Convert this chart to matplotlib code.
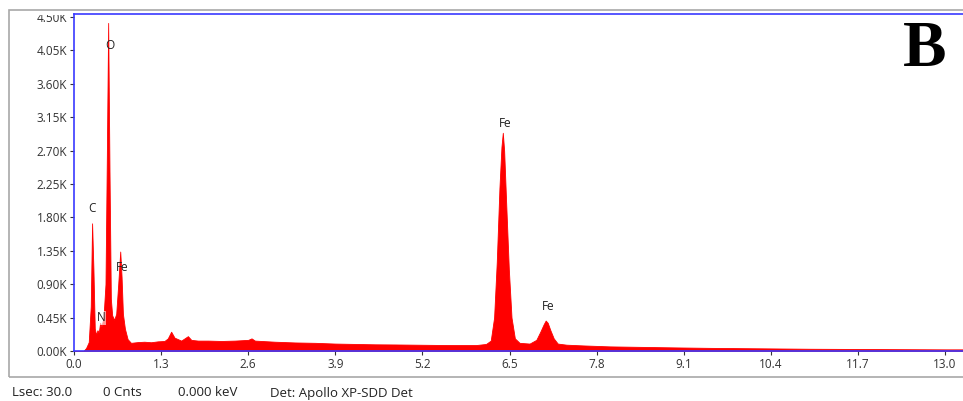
import matplotlib
matplotlib.use("Agg")
import matplotlib.pyplot as plt
from matplotlib.patches import Rectangle

# spectrum (keV, counts)
energy_kev = [
    0.00, 0.14, 0.18, 0.22, 0.25, 0.27, 0.29, 0.31, 0.33, 0.35, 0.37, 0.39,
    0.41, 0.44, 0.47, 0.49, 0.51, 0.53, 0.55, 0.57, 0.60, 0.63, 0.66, 0.69,
    0.71, 0.73, 0.76, 0.80, 0.85, 0.95, 1.05, 1.15, 1.25, 1.35, 1.40, 1.45,
    1.50, 1.60, 1.70, 1.75, 1.85, 2.00, 2.20, 2.40, 2.60, 2.65, 2.70, 3.00,
    3.30, 3.60, 3.90, 4.20, 4.50, 4.80, 5.10, 5.40, 5.70, 6.00, 6.15, 6.22,
    6.27, 6.31, 6.35, 6.38, 6.40, 6.42, 6.45, 6.49, 6.53, 6.58, 6.65, 6.80,
    6.90, 6.96, 7.01, 7.04, 7.07, 7.11, 7.16, 7.22, 7.35, 7.60, 8.00, 8.50,
    9.00, 9.50, 10.00, 10.50, 11.00, 11.50, 12.00, 12.50, 13.00, 13.30,
]
counts = [
    0, 0, 40, 120, 600, 1720, 1100, 300, 220, 280, 250, 380,
    330, 450, 900, 2600, 4420, 2400, 700, 480, 420, 500, 900, 1340,
    1000, 500, 300, 160, 110, 120, 125, 118, 130, 135, 170, 260,
    180, 140, 200, 150, 140, 140, 135, 140, 150, 170, 140, 125,
    115, 110, 100, 95, 90, 88, 85, 82, 80, 80, 95, 140,
    450, 1200, 2200, 2750, 2940, 2700, 2000, 1100, 450, 170, 110, 100,
    150, 260, 360, 410, 380, 280, 170, 100, 85, 75, 62, 55,
    48, 42, 38, 34, 30, 28, 26, 24, 22, 22,
]

peak_labels = ["C", "O", "Fe", "N", "Fe", "Fe"]
label_kev = [0.27, 0.54, 0.72, 0.40, 6.43, 7.07]
label_counts = [1920, 4120, 1120, 445, 3065, 594]

y_ticks = [0, 450, 900, 1350, 1800, 2250, 2700, 3150, 3600, 4050, 4500]
x_ticks = [0.0, 1.3, 2.6, 3.9, 5.2, 6.5, 7.8, 9.1, 10.4, 11.7, 13.0]

W, H = 963, 401
plt.rcParams["font.family"] = ["Open Sans", "DejaVu Sans"]
fig = plt.figure(figsize=(W / 100, H / 100), dpi=100)

ax = fig.add_axes([74 / W, 1 - 351 / H, (966 - 74) / W, (351 - 14) / H])
ax.fill_between(energy_kev, counts, 0, color="#ff0000", lw=0.6, ec="#ff0000")
ax.set_xlim(0, (966 - 74) / 67.0)
ax.set_ylim(0, 4540)

for sp in ax.spines.values():
    sp.set_color("#3a3aff")
    sp.set_linewidth(1.2)

ax.set_yticks(y_ticks)
ax.set_yticklabels([f"{v / 1000:.2f}K" for v in y_ticks])
ax.set_xticks(x_ticks)
ax.set_xticklabels([f"{v:.1f}" for v in x_ticks])
ax.tick_params(axis="both", labelsize=8.5, colors="#333333", length=3,
               width=0.8, pad=2)

for lab, xk, yc in zip(peak_labels, label_kev, label_counts):
    bb = dict(fc="white", ec="none", alpha=0.6, pad=0.5) if lab == "N" else None
    ax.text(xk, yc, lab, ha="center", va="center", fontsize=8.5,
            color="#222222", bbox=bb)

# top tick label is cut off above the plot frame
fig.patches.append(Rectangle((20 / W, 1 - 15 / H), 52.5 / W, 15 / H,
                             transform=fig.transFigure, fc="white",
                             ec="none", zorder=2))
# outer grey frame
fig.patches.append(Rectangle((9 / W, 1 - 377 / H), 1.0, (377 - 10) / H,
                             transform=fig.transFigure, fill=False,
                             ec="#a8a8a8", lw=1.2, zorder=3))

fig.text(925 / W, 1 - 50 / H, "B", ha="center", va="center", fontsize=47,
         fontweight="bold", family="Liberation Serif")

footer = [(12, "Lsec: 30.0"), (103, "0 Cnts"), (178, "0.000 keV"),
          (270, "Det: Apollo XP-SDD Det")]
for px, txt in footer:
    fig.text(px / W, 1 - 393 / H, txt, ha="left", va="center", fontsize=9.5,
             color="#222222")

fig.savefig("out.png", dpi=100)
